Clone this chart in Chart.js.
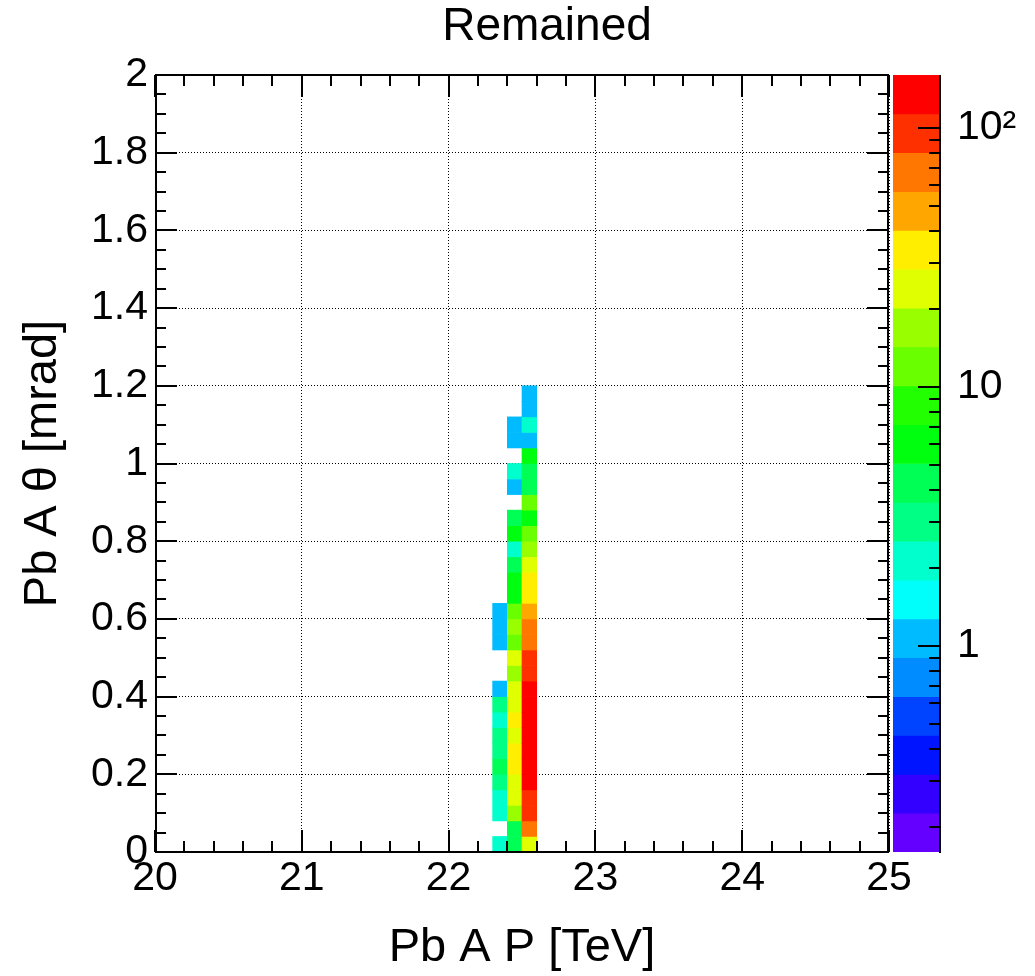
<!DOCTYPE html>
<html><head><meta charset="utf-8">
<script src="https://cdn.jsdelivr.net/npm/chart.js@4/dist/chart.umd.min.js"></script>
<style>
html,body{margin:0;padding:0;background:#fff;overflow:hidden;width:1035px;height:976px;}
#main{position:absolute;left:0;top:0;}
#zbar{position:absolute;left:59px;top:0;}
</style></head><body>
<canvas id="main" width="1035" height="976"></canvas>
<canvas id="zbar" width="976" height="976"></canvas>
<script>
// ---------------- data ----------------
const chartTitle = 'Remained';
const xTitle = 'Pb A P [TeV]';
const yTitle = 'Pb A θ [mrad]';
const xTicks = [20, 21, 22, 23, 24, 25];
const xTickLabels = ['20', '21', '22', '23', '24', '25'];
const yTicks = [0, 0.2, 0.4, 0.6, 0.8, 1, 1.2, 1.4, 1.6, 1.8, 2];
const yTickLabels = ['0', '0.2', '0.4', '0.6', '0.8', '1', '1.2', '1.4', '1.6', '1.8', '2'];
const zTicks = [1, 10, 100];
const zTickLabels = ['1', '10', '10²'];
// momentum bin centres (bin width 0.1 TeV) and theta bin width (mrad)
const pBinCenters = [22.35, 22.45, 22.55];
const pBinWidth = 0.1;
const thetaBinWidth = 0.04;
// bin contents, theta bins from 0 upwards
const counts_22_35 = [2, 0, 2, 2, 3, 5, 3, 3, 2, 3, 1, 0, 0, 1, 1, 1, 0, 0, 0, 0, 0, 0, 0, 0, 0, 0, 0, 0, 0, 0];
const counts_22_45 = [4, 4, 17, 24, 24, 34, 34, 24, 34, 24, 24, 17, 24, 12, 17, 12, 7, 7, 4, 2, 7, 4, 0, 1, 2, 0, 1, 1, 0, 0];
const counts_22_55 = [24, 68, 95, 95, 130, 140, 160, 150, 135, 125, 120, 95, 95, 68, 68, 48, 34, 34, 24, 17, 12, 7, 12, 4, 4, 7, 1, 2, 1, 1];
// 20-level rainbow palette (low -> high)
const palette = ['#6300ff', '#3300ff', '#0014ff', '#0044ff', '#008bff', '#00bbff', '#00fffb', '#00ffcc', '#00ff85', '#00ff55',
                 '#00ff0e', '#22ff00', '#69ff00', '#99ff00', '#e0ff00', '#ffee00', '#ffa700', '#ff7700', '#ff3000', '#ff0000'];

// ---------------- derived ----------------
const columns = [counts_22_35, counts_22_45, counts_22_55];
const zMax = Math.max(...columns.flat());
const zMin = Math.min(1, 0.001 * zMax);
const lzMin = Math.log10(zMin), lzMax = Math.log10(zMax);
const nCont = palette.length;
function colorFor(v) {
  let j = Math.floor((Math.log10(v) - lzMin) / (lzMax - lzMin) * nCont);
  j = Math.max(0, Math.min(nCont - 1, j));
  return palette[j];
}
const cells = [];
columns.forEach((col, c) => col.forEach((v, i) => {
  if (v > 0) cells.push({ x: pBinCenters[c], y: [i * thetaBinWidth, (i + 1) * thetaBinWidth], v: v });
}));
const bands = palette.map((c, j) => ({
  x: 'z',
  y: [Math.pow(10, lzMin + (lzMax - lzMin) * j / nCont), Math.pow(10, lzMin + (lzMax - lzMin) * (j + 1) / nCont)]
}));

const FONT = 'Liberation Sans, Arial, Helvetica, sans-serif';
const tickFont = { family: FONT, size: 41, weight: 'normal', lineHeight: 1.2 };
const axisTitleFont = { family: FONT, size: 47, weight: 'normal', lineHeight: 1.2 };
const titleFont = { family: FONT, size: 46, weight: 'normal', lineHeight: 1.2 };

// ROOT-style frame with inward ticks on all sides
const framePlugin = {
  id: 'rootFrame',
  afterDraw(chart) {
    const { ctx, chartArea: a, scales } = chart;
    const x = scales.x, y = scales.y;
    ctx.save();
    ctx.strokeStyle = '#000';
    ctx.lineWidth = 2;
    ctx.beginPath();
    ctx.moveTo(a.left + 1, a.top); ctx.lineTo(a.left + 1, a.bottom);
    ctx.moveTo(a.right - 1, a.top); ctx.lineTo(a.right - 1, a.bottom);
    ctx.moveTo(a.left, a.top); ctx.lineTo(a.right, a.top);
    ctx.moveTo(a.left, a.bottom); ctx.lineTo(a.right, a.bottom);
    const xSub = 5, ySub = 4, big = 22, small = 11;
    for (let k = 0; k < xTicks.length; k++) {
      const steps = (k < xTicks.length - 1) ? xSub : 1;
      for (let s = 0; s < steps; s++) {
        const v = xTicks[k] + (k < xTicks.length - 1 ? (xTicks[k + 1] - xTicks[k]) * s / xSub : 0);
        const px = Math.round(x.getPixelForValue(v));
        const len = s === 0 ? big : small;
        ctx.moveTo(px, a.bottom); ctx.lineTo(px, a.bottom - len);
        ctx.moveTo(px, a.top); ctx.lineTo(px, a.top + len);
      }
    }
    for (let k = 0; k < yTicks.length; k++) {
      const steps = (k < yTicks.length - 1) ? ySub : 1;
      for (let s = 0; s < steps; s++) {
        const v = yTicks[k] + (k < yTicks.length - 1 ? (yTicks[k + 1] - yTicks[k]) * s / ySub : 0);
        const py = Math.round(y.getPixelForValue(v));
        const len = s === 0 ? big : small;
        ctx.moveTo(a.left, py); ctx.lineTo(a.left + len, py);
        ctx.moveTo(a.right, py); ctx.lineTo(a.right - len, py);
      }
    }
    ctx.stroke();
    ctx.restore();
  }
};

new Chart(document.getElementById('main'), {
  type: 'bar',
  data: {
    datasets: [{
      data: cells,
      backgroundColor: (c) => colorFor(c.raw.v),
      borderWidth: 0,
      barPercentage: 1,
      categoryPercentage: 1
    }]
  },
  options: {
    responsive: false, animation: false, devicePixelRatio: 1,
    layout: { padding: { top: 75, right: 146, left: 0, bottom: 0 } },
    plugins: { legend: { display: false }, tooltip: { enabled: false }, title: { display: false } },
    scales: {
      x: {
        type: 'linear', min: xTicks[0], max: xTicks[xTicks.length - 1], offset: false,
        afterBuildTicks: (s) => { s.ticks = xTicks.map(v => ({ value: v })); },
        afterFit: (s) => { s.height = 124; },
        grid: { offset: false, drawTicks: false, color: '#000', lineWidth: 1 },
        border: { display: false, dash: [1, 2] },
        ticks: { font: tickFont, color: '#000', padding: 2, maxRotation: 0, minRotation: 0, autoSkip: false,
                 callback: (v, i) => xTickLabels[i] },
        title: { display: true, text: xTitle, font: axisTitleFont, color: '#000', padding: { top: 0, bottom: 0 } }
      },
      y: {
        type: 'linear', min: yTicks[0], max: yTicks[yTicks.length - 1],
        afterBuildTicks: (s) => { s.ticks = yTicks.map(v => ({ value: v })); },
        afterFit: (s) => { s.width = 155; },
        grid: { drawTicks: false, color: '#000', lineWidth: 1 },
        border: { display: false, dash: [1, 2] },
        ticks: { font: tickFont, color: '#000', padding: 7, autoSkip: false,
                 callback: (v, i) => yTickLabels[i] },
        title: { display: true, text: yTitle, font: axisTitleFont, color: '#000', padding: { top: 15, bottom: 0 } }
      }
    }
  },
  plugins: [framePlugin]
});

// colour scale
const zTickPlugin = {
  id: 'zTicks',
  afterDraw(chart) {
    const { ctx, chartArea: a, scales } = chart;
    const z = scales.z;
    ctx.save();
    ctx.strokeStyle = '#000';
    ctx.lineWidth = 2;
    ctx.beginPath();
    ctx.moveTo(a.right, a.top); ctx.lineTo(a.right, a.bottom + 1);
    for (let d = Math.floor(lzMin); d <= Math.ceil(lzMax); d++) {
      for (let m = 1; m <= 9; m++) {
        const v = m * Math.pow(10, d);
        if (v < zMin || v > zMax) continue;
        const major = zTicks.some(t => Math.abs(t - v) < 1e-9);
        const py = Math.round(z.getPixelForValue(v));
        ctx.moveTo(a.right, py); ctx.lineTo(a.right - (major ? 22 : 11), py);
      }
    }
    ctx.stroke();
    ctx.restore();
  }
};

new Chart(document.getElementById('zbar'), {
  type: 'bar',
  data: {
    labels: ['z'],
    datasets: [{
      data: bands,
      backgroundColor: palette,
      borderWidth: 0,
      barPercentage: 1,
      categoryPercentage: 1,
      yAxisID: 'z'
    }]
  },
  options: {
    responsive: false, animation: false, devicePixelRatio: 1,
    layout: { padding: { top: 0, right: 0, left: 0, bottom: 124 } },
    plugins: {
      legend: { display: false }, tooltip: { enabled: false },
      title: { display: true, text: chartTitle, font: titleFont, color: '#000', padding: { top: 0, bottom: 19.8 } }
    },
    scales: {
      x: { type: 'category', display: false, offset: true },
      yL: {
        type: 'linear', position: 'left', display: true,
        grid: { display: false }, border: { display: false }, ticks: { display: false },
        afterFit: (s) => { s.width = 834; }
      },
      z: {
        type: 'logarithmic', position: 'right', min: zMin, max: zMax,
        afterBuildTicks: (s) => { s.ticks = zTicks.map(v => ({ value: v, major: true })); },
        afterFit: (s) => { s.width = 95; },
        grid: { display: false, drawTicks: false },
        border: { display: false },
        ticks: { font: tickFont, color: '#000', padding: 17, autoSkip: false,
                 callback: (v, i) => zTickLabels[i] }
      }
    }
  },
  plugins: [zTickPlugin]
});
</script>
</body></html>
